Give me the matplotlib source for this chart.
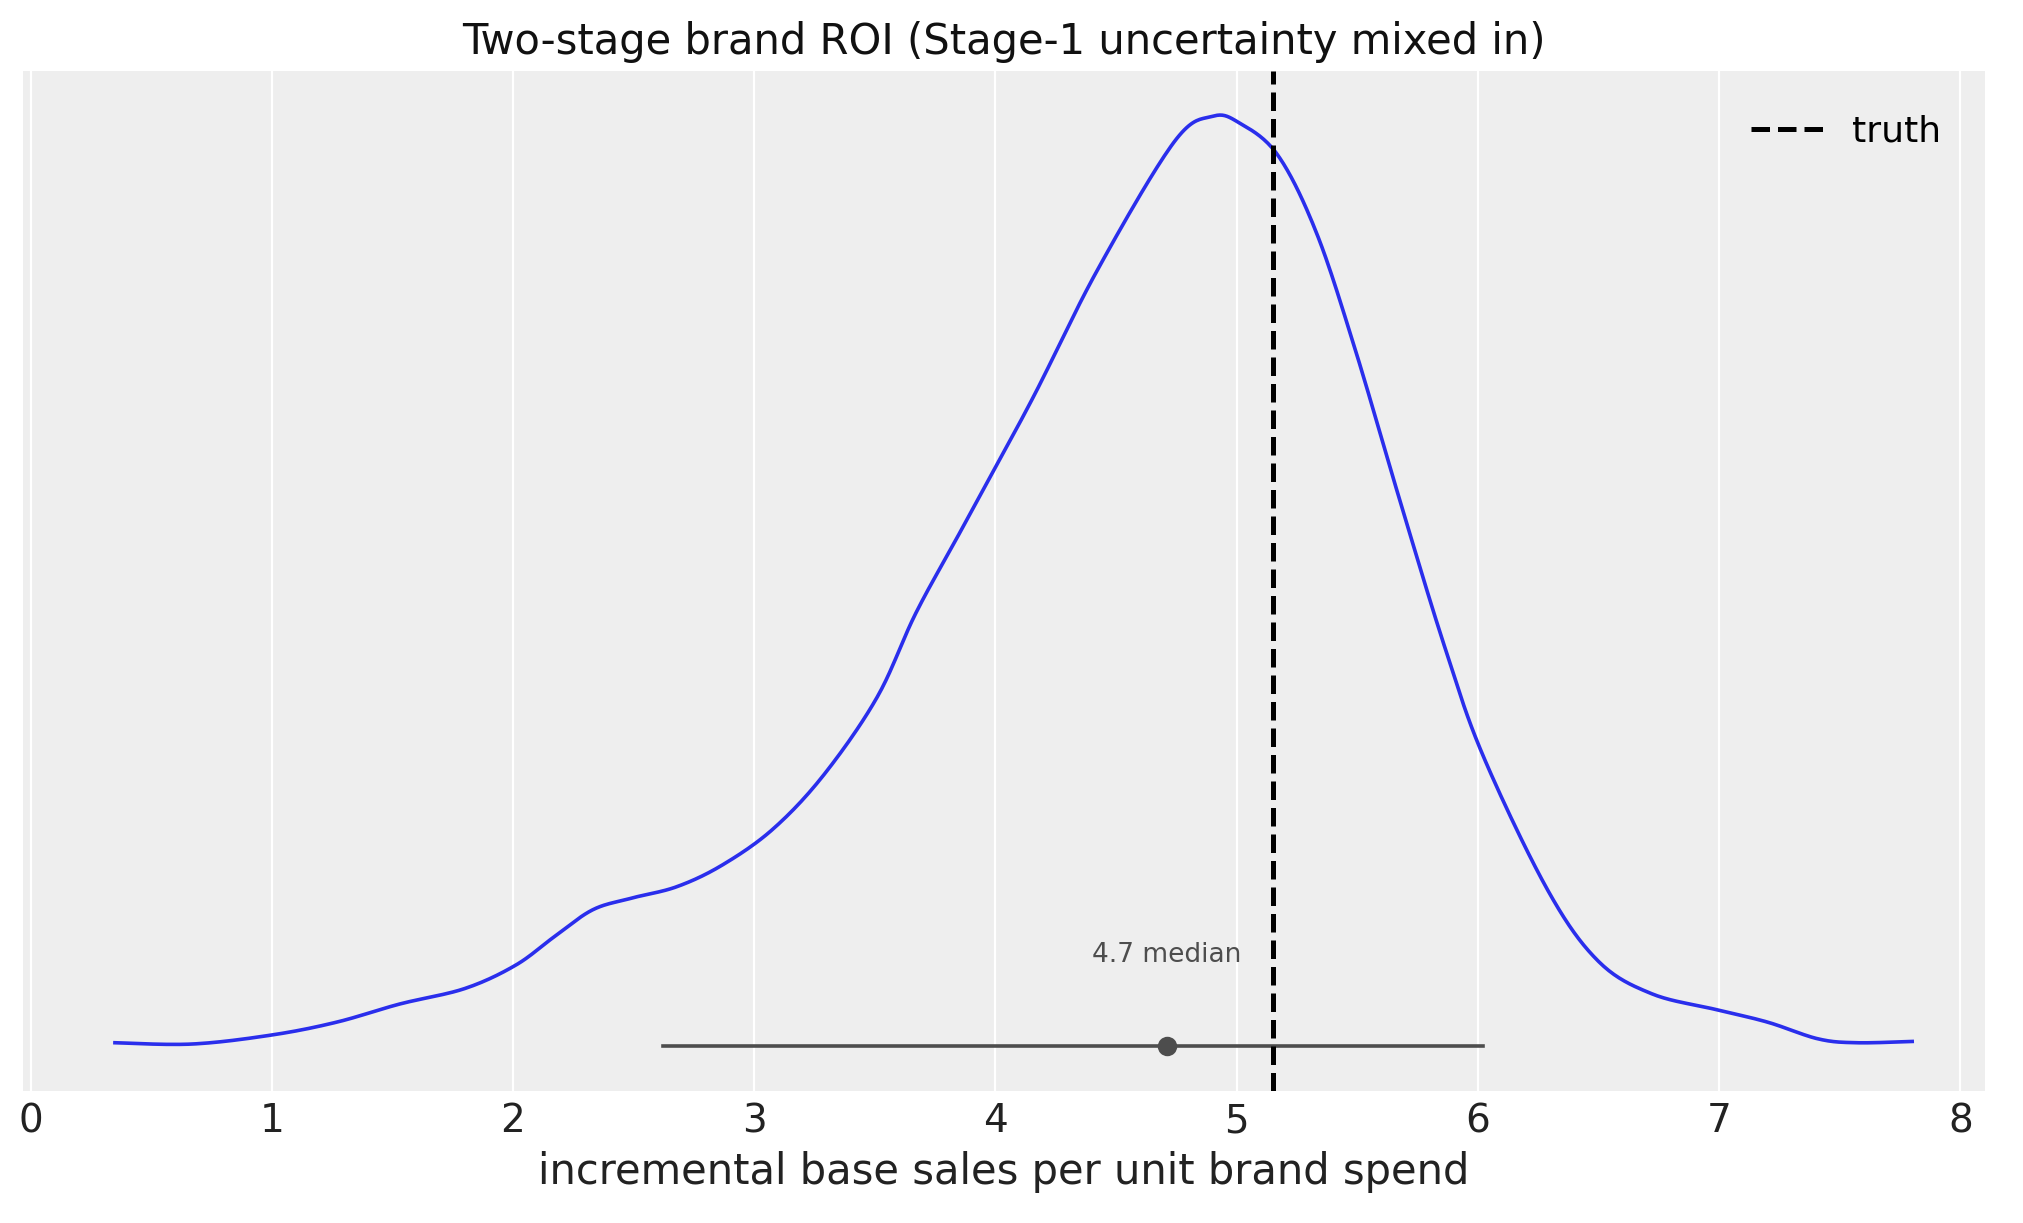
import numpy as np
import matplotlib.pyplot as plt

# density curve (height relative to peak)
roi_x = [0.35, 0.67, 1.0, 1.27, 1.53, 1.8, 2.01, 2.17, 2.33, 2.49, 2.68, 2.87, 3.08,
         3.29, 3.51, 3.67, 3.86, 4.15, 4.42, 4.74, 4.90, 5.01, 5.17, 5.33, 5.49,
         5.68, 5.86, 6.02, 6.29, 6.5, 6.72, 6.98, 7.2, 7.41, 7.57, 7.8]
roi_pix = [808, 809, 802, 792, 778, 766, 748, 726, 705, 696, 687, 670, 642,
           600, 540, 475, 410, 310, 210, 110, 90, 95, 120, 180, 270,
           390, 500, 585, 690, 745, 770, 782, 792, 805, 808, 807]
density = [(808 - p) / 718 for p in roi_pix]

hdi = [2.62, 6.02]
median = 4.71
truth = 5.15


def smooth(xs, ys, n=20):
    # Catmull-Rom curve through the read points
    px = np.array([xs[0]] + list(xs) + [xs[-1]])
    py = np.array([ys[0]] + list(ys) + [ys[-1]])
    ox, oy = [], []
    t = np.linspace(0, 1, n, endpoint=False)
    for i in range(1, len(px) - 2):
        for p, o in ((px, ox), (py, oy)):
            p0, p1, p2, p3 = p[i - 1], p[i], p[i + 1], p[i + 2]
            o.extend(0.5 * (2 * p1 + (-p0 + p2) * t + (2 * p0 - 5 * p1 + 4 * p2 - p3) * t ** 2
                            + (-p0 + 3 * p1 - 3 * p2 + p3) * t ** 3))
    ox.append(xs[-1])
    oy.append(ys[-1])
    return ox, oy


fig = plt.figure(figsize=(10.115, 6.115), dpi=200)
ax = fig.add_axes([0.0115, 0.108, 0.9695, 0.834])
ax.set_facecolor("#eeeeee")
for s in ax.spines.values():
    s.set_visible(False)
ax.grid(True, axis="x", color="white", linewidth=0.8)
ax.set_axisbelow(True)

sx, sy = smooth(roi_x, density)
ax.plot(sx, sy, color="#2a2eec", linewidth=1.3)
ax.plot(hdi, [-0.004, -0.004], color="#4d4d4d", linewidth=1.3)
ax.plot(median, -0.004, "o", color="#4d4d4d", markersize=6)
ax.text(median, 0.095, "4.7 median", ha="center", va="center", fontsize=9.5, color="#4d4d4d")
ax.axvline(truth, color="black", linestyle="--", linewidth=1.8, label="truth")

ax.set_xlim(-0.03, 8.1)
ax.set_ylim(-0.052, 1.049)
ax.set_yticks([])
ax.set_xticks(range(9))
ax.tick_params(axis="x", labelsize=14, length=0, pad=4, colors="#222222")
ax.set_xlabel("incremental base sales per unit brand spend", fontsize=15, color="#222222")
ax.set_title("Two-stage brand ROI (Stage-1 uncertainty mixed in)", fontsize=15, color="#111111", pad=6)
ax.legend(loc="upper right", frameon=False, fontsize=13, borderaxespad=0.8)

fig.savefig("out.png")
